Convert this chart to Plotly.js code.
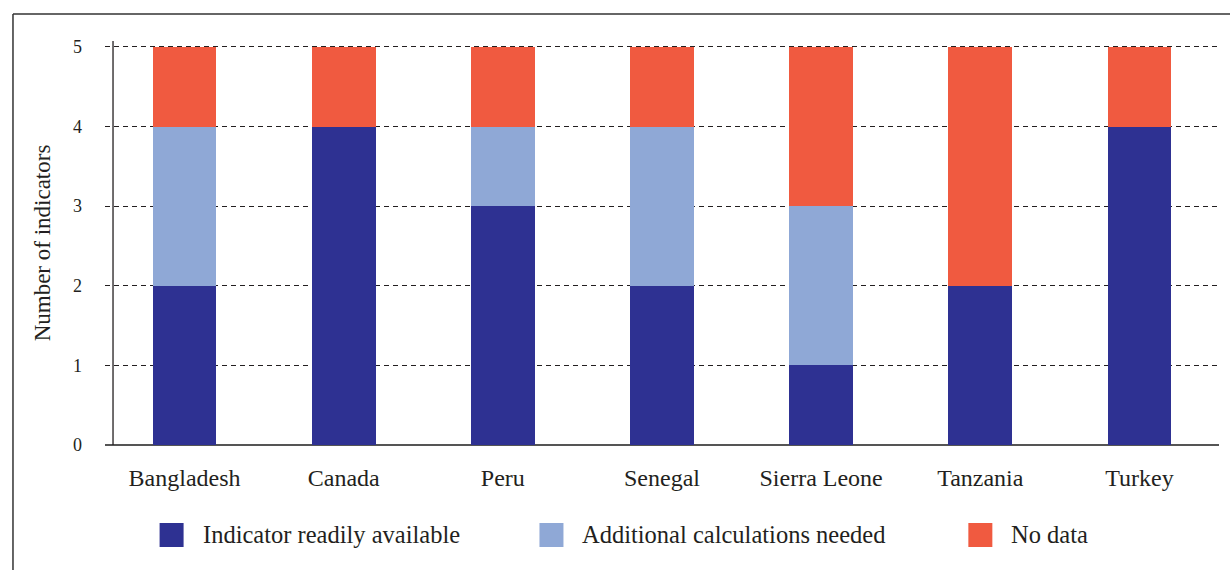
<!DOCTYPE html>
<html>
<head>
<meta charset="utf-8">
<script src="https://cdn.plot.ly/plotly-3.0.1.min.js"></script>
<style>html,body{margin:0;padding:0;background:#fff;}#chart{width:1230px;height:570px;}</style>
</head>
<body>
<div id="chart"></div>
<script>
const countries = ["Bangladesh", "Canada", "Peru", "Senegal", "Sierra Leone", "Tanzania", "Turkey"];
const readilyAvailable = [2, 4, 3, 2, 1, 2, 4];
const additionalCalc = [2, 0, 1, 2, 2, 0, 0];
const noData = [1, 1, 1, 1, 2, 3, 1];
const seriesNames = ["Indicator readily available", "Additional calculations needed", "No data"];
const seriesColors = ["#2E3192", "#8FA8D6", "#F05A40"];
const yTicks = [0, 1, 2, 3, 4, 5];

const FONT = "Liberation Serif, DejaVu Serif, serif";
const TXT = "#231F20";
const seriesValues = [readilyAvailable, additionalCalc, noData];

const traces = seriesValues.map((vals, i) => ({
  type: "bar",
  x: countries,
  y: vals,
  name: seriesNames[i],
  marker: {color: seriesColors[i], line: {width: 0}},
  width: 0.4,
  showlegend: false,
  hoverinfo: "x+y+name"
}));

// Manual legend (squares + labels) and frame
const legendX = [0.049, 0.390, 0.775];
const shapes = [
  {type: "line", xref: "paper", yref: "paper", x0: 0.0072, x1: 0.0072, y0: 0, y1: 1, line: {color: "#231F20", width: 1.3}},
  {type: "line", xref: "paper", yref: "paper", x0: -0.0826, x1: 1.01, y0: 1.0668, y1: 1.0668, line: {color: "#333", width: 1.5}},
  {type: "line", xref: "paper", yref: "paper", x0: -0.0826, x1: -0.0826, y0: 1.0668, y1: -0.32, line: {color: "#333", width: 1.5}}
];
const annotations = [];
seriesNames.forEach((n, i) => {
  shapes.push({type: "rect", xref: "paper", yref: "paper",
    x0: legendX[i], x1: legendX[i] + 24 / 1114, y0: -0.1930, y1: -0.2525,
    fillcolor: seriesColors[i], line: {width: 0}});
  annotations.push({xref: "paper", yref: "paper", x: legendX[i] + 41 / 1114, y: -0.2215,
    xanchor: "left", yanchor: "middle", showarrow: false, text: n,
    font: {family: FONT, size: 24.5, color: TXT}});
});

const layout = {
  width: 1230, height: 570,
  margin: {l: 105, r: 11, t: 41, b: 125},
  paper_bgcolor: "#fff", plot_bgcolor: "#fff",
  barmode: "stack",
  bargap: 0.6,
  font: {family: FONT, color: TXT},
  showlegend: false,
  xaxis: {
    type: "category",
    range: [-0.5, 6.5],
    showgrid: false, showline: false, ticks: "",
    ticklabelstandoff: 16,
    tickfont: {family: FONT, size: 24, color: TXT},
    fixedrange: true
  },
  yaxis: {
    range: [0, 5.075],
    tickvals: yTicks,
    ticktext: yTicks.map(String),
    showgrid: true, gridcolor: "#231F20", gridwidth: 1, griddash: "5px,4px",
    zeroline: true, zerolinecolor: "#555", zerolinewidth: 1.5,
    showline: false, ticks: "",
    ticklabelstandoff: 22,
    tickfont: {family: FONT, size: 18, color: TXT},
    title: {text: "Number of indicators", font: {family: FONT, size: 23, color: TXT}, standoff: 15},
    fixedrange: true
  },
  shapes: shapes,
  annotations: annotations
};

Plotly.newPlot("chart", traces, layout, {displayModeBar: false, staticPlot: true});
</script>
</body>
</html>
